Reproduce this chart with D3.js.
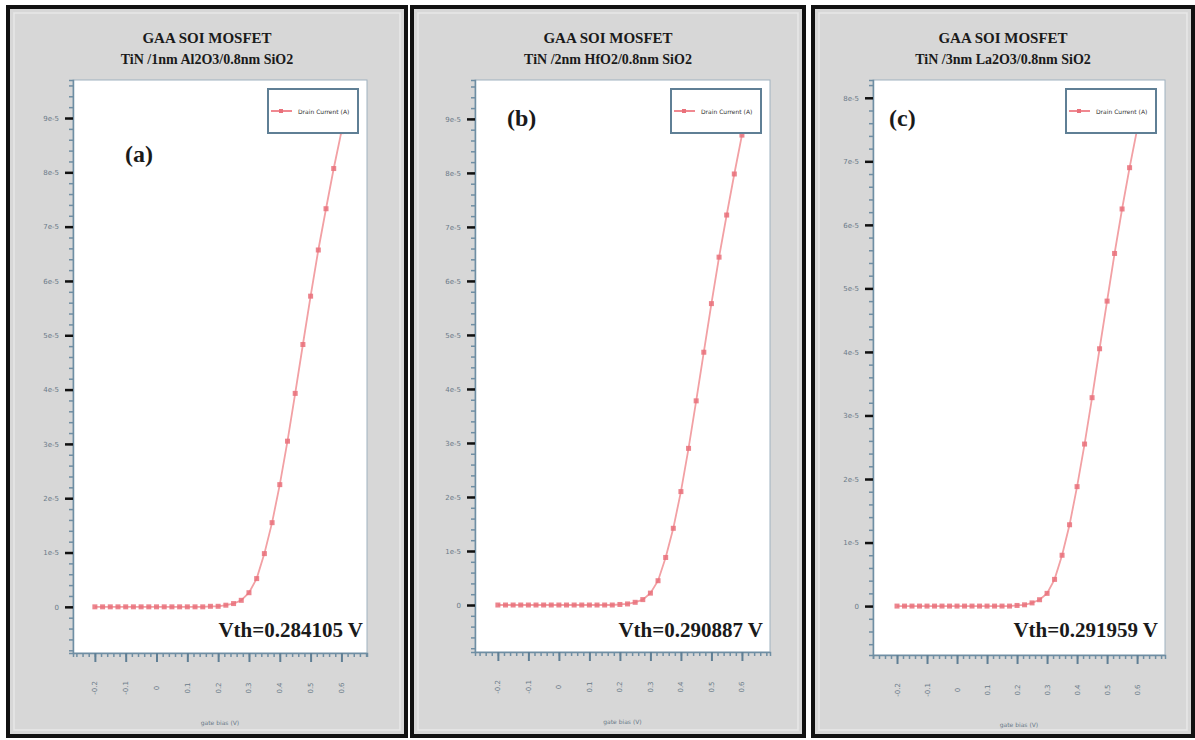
<!DOCTYPE html>
<html><head><meta charset="utf-8">
<script src="https://cdn.jsdelivr.net/npm/d3@7/dist/d3.min.js"></script>
<style>body{margin:0;background:#fff;}svg{display:block;}</style>
</head><body>
<svg id="chart" width="1195" height="740"></svg>
<script>
// ---- data ----
const gateVoltage = [-0.2,-0.175,-0.15,-0.125,-0.1,-0.075,-0.05,-0.025,0,0.025,0.05,0.075,0.1,0.125,0.15,0.175,0.2,0.225,0.25,0.275,0.3,0.325,0.35,0.375,0.4,0.425,0.45,0.475,0.5,0.525,0.55,0.575,0.6];
const drainCurrentA = [0,0,0,0,0,0,0,0,0,0,0,0,0,0,0,0.0000001,0.0000001,0.0000003,0.0000006,0.0000012,0.0000026,0.0000052,0.0000098,0.0000155,0.0000225,0.0000305,0.0000393,0.0000483,0.0000572,0.0000657,0.0000733,0.0000807,0.0000875];
const drainCurrentB = [0,0,0,0,0,0,0,0,0,0,0,0,0,0,0,0,0.0000001,0.0000002,0.0000005,0.0000010,0.0000022,0.0000045,0.0000088,0.0000142,0.0000210,0.0000290,0.0000378,0.0000468,0.0000558,0.0000644,0.0000722,0.0000798,0.0000870];
const drainCurrentC = [0,0,0,0,0,0,0,0,0,0,0,0,0,0,0,0,0.0000001,0.0000002,0.0000005,0.0000010,0.0000020,0.0000042,0.0000080,0.0000128,0.0000188,0.0000255,0.0000328,0.0000405,0.0000480,0.0000555,0.0000625,0.0000690,0.0000750];
const xTickValues = [-0.2,-0.1,0,0.1,0.2,0.3,0.4,0.5,0.6];
const xTickLabels = ["-0.2","-0.1","0","0.1","0.2","0.3","0.4","0.5","0.6"];
const yTickValuesAB = [0,0.00001,0.00002,0.00003,0.00004,0.00005,0.00006,0.00007,0.00008,0.00009];
const yTickLabelsAB = ["0","1e-5","2e-5","3e-5","4e-5","5e-5","6e-5","7e-5","8e-5","9e-5"];
const yTickValuesC = [0,0.00001,0.00002,0.00003,0.00004,0.00005,0.00006,0.00007,0.00008];
const yTickLabelsC = ["0","1e-5","2e-5","3e-5","4e-5","5e-5","6e-5","7e-5","8e-5"];
const titleLine1 = "GAA SOI MOSFET";
const subtitles = ["TiN /1nm Al2O3/0.8nm SiO2","TiN /2nm HfO2/0.8nm SiO2","TiN /3nm La2O3/0.8nm SiO2"];
const panelLetters = ["(a)","(b)","(c)"];
const vthLabels = ["Vth=0.284105 V","Vth=0.290887 V","Vth=0.291959 V"];
const legendLabel = "Drain Current (A)";
const xAxisTitle = "gate bias (V)";

// ---- layout ----
const panels = [
  {frame:[8,7,398,729], plot:[73,80,367,653], xd:[-0.271,0.683], yd:[-0.0000085,0.000097], yv:yTickValuesAB, yl:yTickLabelsAB, data:drainCurrentA, letter:[125,162], vthRight:363},
  {frame:[412,7,392,729], plot:[475,80,770,652], xd:[-0.275,0.692], yd:[-0.0000087,0.0000972], yv:yTickValuesAB, yl:yTickLabelsAB, data:drainCurrentB, letter:[507,126], vthRight:763},
  {frame:[813,7,380,729], plot:[873,80,1165,655], xd:[-0.28,0.693], yd:[-0.0000077,0.0000828], yv:yTickValuesC, yl:yTickLabelsC, data:drainCurrentC, letter:[889,126], vthRight:1158}
];

const svg = d3.select("#chart");
const serif = "'Liberation Serif','Times New Roman',serif";

panels.forEach((p,i)=>{
  const g = svg.append("g");
  const [fx,fy,fw,fh] = p.frame;
  g.append("rect").attr("x",fx).attr("y",fy).attr("width",fw).attr("height",fh)
    .attr("fill","#d7d7d7").attr("stroke","#111").attr("stroke-width",4);
  g.append("rect").attr("x",fx+6).attr("y",fy+6).attr("width",fw-12).attr("height",fh-12)
    .attr("fill","none").attr("stroke","#e8e8e8").attr("stroke-width",1.5);
  const cx = fx+fw/2;
  g.append("text").attr("x",cx).attr("y",43).attr("text-anchor","middle")
    .attr("font-family",serif).attr("font-weight","bold").attr("font-size",15).attr("fill","#1a1a1a").text(titleLine1);
  g.append("text").attr("x",cx).attr("y",64).attr("text-anchor","middle")
    .attr("font-family",serif).attr("font-weight","bold").attr("font-size",14).attr("fill","#1a1a1a").text(subtitles[i]);

  const [x0,y0,x1,y1] = p.plot;
  const x = d3.scaleLinear().domain(p.xd).range([x0,x1]);
  const y = d3.scaleLinear().domain(p.yd).range([y1,y0]);

  g.append("rect").attr("x",x0).attr("y",y0).attr("width",x1-x0).attr("height",y1-y0)
    .attr("fill","#fff").attr("stroke","#9fb2c0").attr("stroke-width",1);

  // y axis
  const yMinor = d3.range(Math.ceil(p.yd[0]/0.000002), Math.floor(p.yd[1]/0.000002)+1).map(k=>k*0.000002);
  const yAxisMinor = d3.axisLeft(y).tickValues(yMinor).tickSize(4).tickFormat("");
  const ya = g.append("g").attr("transform",`translate(${x0},0)`).call(yAxisMinor);
  ya.select(".domain").attr("stroke","#6f8ea3").attr("stroke-width",1.5);
  ya.selectAll(".tick line").attr("stroke","#6f8ea3").attr("stroke-width",1.5);
  const yAxisMajor = d3.axisLeft(y).tickValues(p.yv).tickSize(8).tickPadding(6)
    .tickFormat((d,k)=>p.yl[k]);
  const yb = g.append("g").attr("transform",`translate(${x0},0)`).call(yAxisMajor);
  yb.select(".domain").remove();
  yb.selectAll(".tick line").attr("stroke","#111").attr("stroke-width",2.5);
  yb.selectAll(".tick text").attr("font-family","'DejaVu Sans',sans-serif").attr("font-size",7).attr("fill","#6a7a88");

  // x axis
  const xMinor = d3.range(Math.ceil(p.xd[0]/0.02), Math.floor(p.xd[1]/0.02)+1).map(k=>k*0.02);
  const xAxisMinor = d3.axisBottom(x).tickValues(xMinor).tickSize(4).tickFormat("");
  const xa = g.append("g").attr("transform",`translate(0,${y1})`).call(xAxisMinor);
  xa.select(".domain").attr("stroke","#6f8ea3").attr("stroke-width",1.5);
  xa.selectAll(".tick line").attr("stroke","#6f8ea3").attr("stroke-width",1.5);
  const xAxisMajor = d3.axisBottom(x).tickValues(xTickValues).tickSize(9).tickFormat((d,k)=>xTickLabels[k]);
  const xb = g.append("g").attr("transform",`translate(0,${y1})`).call(xAxisMajor);
  xb.select(".domain").remove();
  xb.selectAll(".tick line").attr("stroke","#5f7f95").attr("stroke-width",2);
  xb.selectAll(".tick text").attr("font-family","'DejaVu Sans',sans-serif").attr("font-size",7).attr("fill","#6a7a88")
    .attr("text-anchor","middle").attr("dy",null).attr("y",null)
    .attr("transform","translate(0,35) rotate(-90)").attr("dominant-baseline","central");
  g.append("text").attr("x",(x0+x1)/2).attr("y",y1+72).attr("text-anchor","middle")
    .attr("font-family","'DejaVu Sans',sans-serif").attr("font-size",6).attr("fill","#6a7a88").text(xAxisTitle);

  // curve
  const pts = gateVoltage.map((v,k)=>[v,p.data[k]]);
  g.append("path").datum(pts).attr("fill","none").attr("stroke","#f2a0a4").attr("stroke-width",1.8)
    .attr("d", d3.line().x(d=>x(d[0])).y(d=>y(d[1])));
  g.selectAll(".mk").data(pts).enter().append("rect").attr("class","mk")
    .attr("x",d=>x(d[0])-2.5).attr("y",d=>y(d[1])-2.5).attr("width",5).attr("height",5)
    .attr("fill","#e9707a").attr("opacity",0.85);

  // legend
  const lx = x1-99, ly = y0+9;
  g.append("rect").attr("x",lx).attr("y",ly).attr("width",90).attr("height",44)
    .attr("fill","#fff").attr("stroke","#5f7f95").attr("stroke-width",2);
  g.append("line").attr("x1",lx+3).attr("x2",lx+24).attr("y1",ly+22).attr("y2",ly+22)
    .attr("stroke","#f08890").attr("stroke-width",2);
  g.append("rect").attr("x",lx+11).attr("y",ly+20).attr("width",4).attr("height",4).attr("fill","#e9707a");
  g.append("text").attr("x",lx+30).attr("y",ly+24.5).attr("font-family","'DejaVu Sans',sans-serif")
    .attr("font-size",6).attr("fill","#333").text(legendLabel);

  // annotations
  g.append("text").attr("x",p.letter[0]).attr("y",p.letter[1]).attr("font-family",serif).attr("font-weight","bold")
    .attr("font-size",24).attr("fill","#1a1a1a").text(panelLetters[i]);
  g.append("text").attr("x",p.vthRight).attr("y",637).attr("text-anchor","end").attr("font-family",serif).attr("font-weight","bold")
    .attr("font-size",21).attr("fill","#1a1a1a").text(vthLabels[i]);
});
</script>
</body></html>
